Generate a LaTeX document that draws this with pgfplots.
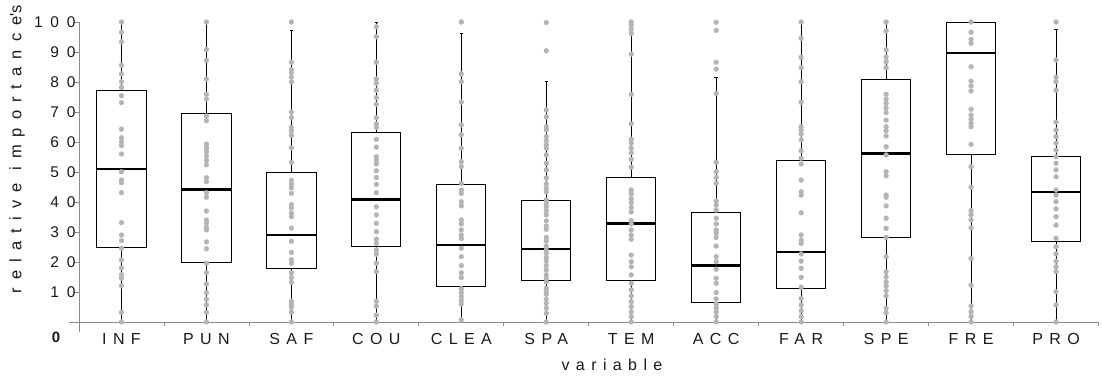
\documentclass[border=0pt]{standalone}
\usepackage{fontspec}
\setmainfont{Liberation Sans}
\newfontfamily\lsX{Liberation Sans}[LetterSpace=40]
\newfontfamily\lsL{Liberation Sans}[LetterSpace=49]
\newfontfamily\lsY{Liberation Sans}[LetterSpace=50]
\usepackage{pgfplots}
\pgfplotsset{compat=1.18}
\usepgfplotslibrary{statistics}
\definecolor{dotgray}{RGB}{180,180,180}
\definecolor{axgray}{RGB}{140,140,140}
\definecolor{txt}{RGB}{25,25,25}
\newcommand\bp[6]{\addplot[black, line width=1pt, boxplot prepared={draw direction=y, draw position=#1, lower whisker=#2, lower quartile=#3, median=#4, upper quartile=#5, upper whisker=#6, box extend=0.58, whisker extend=0.04}] coordinates {};}
\begin{document}
\begin{tikzpicture}
\begin{axis}[
  at={(0,0)}, anchor=south west,
  scale only axis, width=1019.5pt, height=300pt,
  xmin=-0.5, xmax=11.5, ymin=0, ymax=100,
  clip=false,
  axis lines*=left, axis line style={draw=none},
  xtick={0,...,11},
  xticklabels={INF,PUN,SAF,COU,CLEA,SPA,TEM,ACC,FAR,SPE,FRE,PRO},
  major x tick style={draw=none},
  minor xtick={0.5,1.5,...,11.5},
  minor x tick style={axgray, line width=0.8pt},
  ytick={10,20,...,100},
  yticklabels={10,20,30,40,50,60,70,80,90,100},
  y tick style={axgray, line width=0.8pt},
  tick align=outside,
  major tick length=5pt, minor tick length=4pt,
  xticklabel style={font=\fontsize{16}{18}\lsX, text=txt, yshift=-3pt},
  yticklabel style={font=\fontsize{15.5}{17}\lsY, text=txt, xshift=5pt},
  boxplot/every median/.style={line width=2.6pt},
]
\addplot[only marks, mark=*, mark size=2.4pt, dotgray, mark options={draw=none, fill=dotgray}] coordinates {
(0,100)(0,96.6)(0,93.4)(0,85.6)(0,82.7)(0,80.1)(0,78.2)(0,75.4)(0,73.1)(0,64.3)(0,61.4)(0,60.1)(0,58.8)(0,56)(0,50.1)(0,47.3)(0,46.4)(0,43.1)(0,33.1)(0,29)(0,27.1)(0,24.6)(0,20.7)(0,18.1)(0,15.7)(0,14.6)(0,12.1)(0,3.2)(0,0)
(1,100)(1,90.9)(1,87.2)(1,81)(1,75.9)(1,74.3)(1,68.7)(1,67.1)(1,59.3)(1,58.1)(1,56.8)(1,55.3)(1,53.9)(1,52.4)(1,48.1)(1,46.8)(1,43.1)(1,41.6)(1,37)(1,34)(1,32.9)(1,31.4)(1,30.7)(1,26.7)(1,24.4)(1,19.6)(1,16.4)(1,12.7)(1,9.8)(1,7.6)(1,5.7)(1,3.2)(1,0)
(2,100)(2,86.6)(2,84.2)(2,83.1)(2,81.6)(2,80)(2,70)(2,68.1)(2,64.8)(2,63.7)(2,62.2)(2,58.1)(2,53.2)(2,47.2)(2,46)(2,44.7)(2,42.9)(2,39.1)(2,38)(2,36.3)(2,35.1)(2,31.3)(2,26.9)(2,23.2)(2,20.8)(2,19.6)(2,16.4)(2,14.8)(2,13.2)(2,6.9)(2,5.9)(2,4.9)(2,3.3)(2,0)
(3,98.4)(3,95.1)(3,86.6)(3,81)(3,79.6)(3,77.3)(3,74.8)(3,72.6)(3,68.1)(3,66)(3,64.9)(3,60.9)(3,58.3)(3,55.1)(3,54)(3,52.7)(3,50.4)(3,48.2)(3,45.9)(3,43.1)(3,38.4)(3,35.7)(3,32.9)(3,30.1)(3,27.6)(3,26.2)(3,24)(3,22.6)(3,19.6)(3,16.8)(3,6.9)(3,5.3)(3,2.3)(3,0)
(4,100)(4,82.7)(4,80.1)(4,73.3)(4,65.7)(4,62.4)(4,57.9)(4,53.4)(4,51.8)(4,46.2)(4,44)(4,42.9)(4,40.1)(4,38.7)(4,34)(4,32.7)(4,30.7)(4,29)(4,27.8)(4,24.6)(4,21.8)(4,18.8)(4,16.4)(4,14.8)(4,11.1)(4,9.8)(4,8.4)(4,7.1)(4,6)(4,0.7)
(5,99.8)(5,90.4)(5,70.7)(5,68.4)(5,65.1)(5,64)(5,61.8)(5,60.4)(5,59)(5,57.9)(5,55.7)(5,52.9)(5,50.7)(5,48)(5,46)(5,44.5)(5,43.4)(5,40.7)(5,39.5)(5,38.4)(5,37.1)(5,35.7)(5,33.7)(5,32)(5,30.9)(5,28.2)(5,27)(5,25.3)(5,24)(5,22.9)(5,21.5)(5,20.3)(5,18.8)(5,17.3)(5,15.7)(5,14.5)(5,13.4)(5,11.2)(5,10)(5,9.3)(5,7.6)(5,6.2)(5,4.6)(5,2.9)(5,0)
(6,100)(6,99)(6,97.6)(6,96.2)(6,89.3)(6,75.9)(6,66.1)(6,60.9)(6,59.6)(6,57.9)(6,56.4)(6,54.2)(6,51.6)(6,44)(6,42.7)(6,41.1)(6,39.8)(6,38.2)(6,36.7)(6,33.8)(6,32.7)(6,30.7)(6,29)(6,27.6)(6,22.3)(6,20.1)(6,18.4)(6,15.7)(6,12.9)(6,10.7)(6,8.7)(6,6.8)(6,5.1)(6,3.4)(6,1.8)(6,0)
(7,99.9)(7,97.2)(7,86.6)(7,84.3)(7,76.2)(7,53.2)(7,50.1)(7,48.2)(7,46.2)(7,40.3)(7,39)(7,37.3)(7,34.6)(7,32.7)(7,30.7)(7,29.6)(7,28.2)(7,25.3)(7,21.8)(7,20.1)(7,17.6)(7,14.6)(7,12.9)(7,9.8)(7,7.7)(7,6)(7,4.6)(7,3.4)(7,1.8)(7,0)
(8,100)(8,94.6)(8,88.2)(8,84.8)(8,80.1)(8,73.2)(8,65.1)(8,64)(8,62.6)(8,60.7)(8,57.1)(8,54.6)(8,52.7)(8,47.3)(8,43.4)(8,42.3)(8,36.4)(8,29)(8,27.3)(8,26.2)(8,22.7)(8,20.3)(8,17.9)(8,14.9)(8,11.6)(8,7.9)(8,5.7)(8,3.8)(8,1.8)(8,0)
(9,100)(9,97)(9,90.7)(9,88.4)(9,86.8)(9,84.8)(9,75.9)(9,74.3)(9,72.9)(9,71.4)(9,69.8)(9,67.3)(9,65.1)(9,63.7)(9,62)(9,58.4)(9,55.7)(9,50.1)(9,48.7)(9,42.3)(9,41.6)(9,38.7)(9,34.6)(9,31.2)(9,28.2)(9,21.8)(9,16.8)(9,15.1)(9,13.4)(9,12)(9,10.4)(9,8.7)(9,4.6)(9,3.1)(9,0)
(10,100)(10,96.6)(10,94.2)(10,92.9)(10,85.1)(10,80.3)(10,78.7)(10,77)(10,70.9)(10,69)(10,67.6)(10,66.2)(10,65.1)(10,59.2)(10,51.8)(10,44.9)(10,37.1)(10,35.7)(10,34)(10,31.4)(10,21.2)(10,12.3)(10,5.3)(10,3.4)(10,1.8)(10,0)
(11,100)(11,87.3)(11,81.6)(11,80.1)(11,77.3)(11,66.6)(11,64)(11,61.8)(11,59.6)(11,57.3)(11,55.1)(11,52.9)(11,50.7)(11,48.4)(11,44)(11,42.3)(11,40.1)(11,37.7)(11,35.1)(11,32.3)(11,27.9)(11,25.1)(11,22.7)(11,20.3)(11,18.4)(11,16.8)(11,10.1)(11,5.7)(11,0)
};
\bp{0}{0}{24.9}{51}{77.3}{100}
\bp{1}{0}{20}{44.2}{69.6}{100}
\bp{2}{0}{17.9}{29}{49.7}{97.3}
\bp{3}{0}{25.3}{40.9}{63.1}{99.9}
\bp{4}{0}{11.9}{25.7}{45.7}{96.3}
\bp{5}{0}{13.8}{24.4}{40.4}{80.3}
\bp{6}{0}{13.8}{32.8}{48.1}{100}
\bp{7}{0}{6.6}{18.9}{36.6}{81.4}
\bp{8}{0}{11.2}{23.3}{53.8}{100}
\bp{9}{0}{28.1}{56.1}{80.7}{100}
\bp{10}{0}{55.9}{89.6}{99.9}{99.9}
\bp{11}{0}{26.7}{43.4}{55.1}{97.6}
\draw[axgray, line width=0.8pt] (axis cs:-0.5,-3.33) -- (axis cs:-0.5,100);
\draw[axgray, line width=0.8pt] (axis cs:-0.618,0) -- (axis cs:11.5,0);
\end{axis}
\node[font=\fontsize{15}{17}\selectfont\bfseries, text=txt] at (-23pt,-15pt) {0};
\node[rotate=90, font=\fontsize{16.5}{18}\lsL, text=txt] at (-62pt,173pt) {relative importance\textquotesingle s};
\node[font=\fontsize{16}{18}\lsX, text=txt] at (533pt,-43pt) {variable};
\pgfresetboundingbox
\useasboundingbox (-79pt,-56pt) rectangle (1023pt,322pt);
\end{tikzpicture}
\end{document}
